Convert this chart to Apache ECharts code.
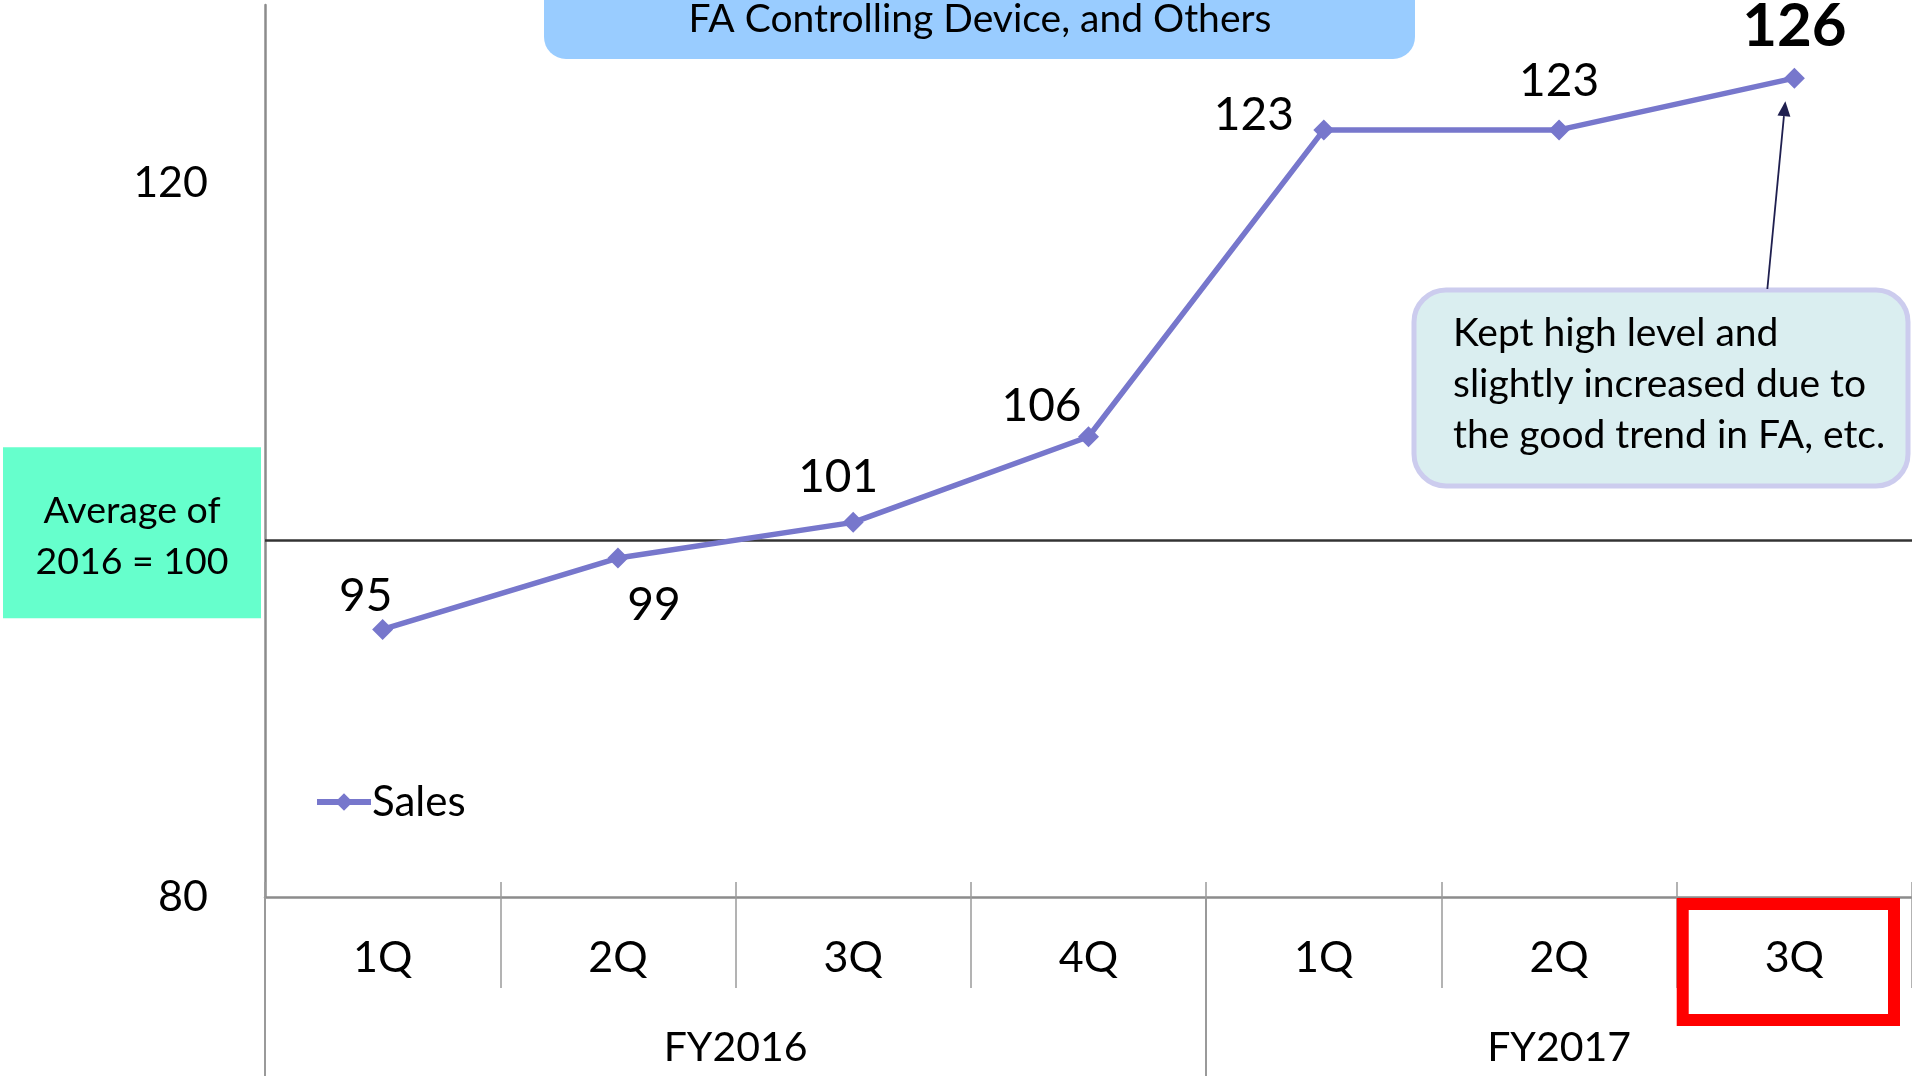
<!DOCTYPE html>
<html><head><meta charset="utf-8">
<script src="https://cdn.jsdelivr.net/npm/echarts@6/dist/echarts.min.js"></script>
<style>html,body{margin:0;padding:0;background:#fff}#c{width:1912px;height:1076px}</style>
</head><body><div id="c"></div>
<script>
// ---- data ----
const quarters = ['1Q', '2Q', '3Q', '4Q', '1Q', '2Q', '3Q'];
const fiscalYears = ['FY2016', 'FY2017'];
const quartersPerYear = [4, 3];
const sales = [95, 99, 101, 105.8, 123, 123, 125.9];
const yTicks = [80, 120];
const baseValue = 100;
const seriesName = 'Sales';
const titleText = 'FA Controlling Device, and Others';
const baseText = ['Average of', '2016 = 100'];
const noteText = ['Kept high level and', 'slightly increased due to', 'the good trend in FA, etc.'];

// ---- styling ----
const FONT = 'Lato';
const labelOffsets = [[-17, -33], [36, 47], [-15, -45], [-47, -31], [-70, -15], [0, -49], [0, -51]];

const fyStarts = [], fyCenters = [];
let acc = 0;
quartersPerYear.forEach(n => { fyStarts.push(acc); fyCenters.push(acc + n / 2); acc += n; });

const chart = echarts.init(document.getElementById('c'), null, {renderer: 'canvas'});

const option = {
  backgroundColor: '#ffffff',
  animation: false,
  grid: {left: 265, right: 0, top: 5, bottom: 179, containLabel: false, outerBoundsMode: 'none'},
  legend: {
    data: [seriesName], left: 309, top: 776, itemWidth: 54, itemHeight: 22, itemGap: 4,
    lineStyle: {width: 6},
    textStyle: {fontFamily: FONT, fontSize: 42, color: '#000', padding: [0, 0, 0, -4]}
  },
  xAxis: [
    {
      type: 'category', data: quarters, boundaryGap: true, position: 'bottom',
      axisLine: {show: true, lineStyle: {color: '#8c8c8c', width: 2.5}},
      axisTick: {show: true, interval: 0, length: 91, lineStyle: {color: '#9a9a9a', width: 1.5}},
      axisLabel: {interval: 0, margin: 40, fontFamily: FONT, fontSize: 43, color: '#000'},
      splitLine: {show: false}
    },
    {
      type: 'category', data: quarters, boundaryGap: true, position: 'bottom',
      axisLine: {show: false},
      axisTick: {show: true, inside: true, interval: 0, length: 15, lineStyle: {color: '#9a9a9a', width: 1.5}},
      axisLabel: {show: false}, splitLine: {show: false}
    },
    {
      type: 'value', min: 0, max: acc, position: 'bottom',
      axisLine: {show: false},
      axisTick: {show: true, customValues: fyStarts, length: 179, lineStyle: {color: '#9a9a9a', width: 2}},
      axisLabel: {
        show: true, customValues: fyCenters, margin: 130, fontFamily: FONT, fontSize: 41, color: '#000',
        formatter: v => { const i = fyCenters.indexOf(v); return i >= 0 ? fiscalYears[i] : ''; }
      },
      splitLine: {show: false}
    }
  ],
  yAxis: {
    type: 'value', min: yTicks[0], max: 130, interval: yTicks[1] - yTicks[0],
    axisLine: {show: true, lineStyle: {color: '#8c8c8c', width: 2.5}},
    axisTick: {show: false},
    axisLabel: {showMaxLabel: false, margin: 57, fontFamily: FONT, fontSize: 43, color: '#000'},
    splitLine: {show: false}
  },
  series: [{
    name: seriesName, type: 'line', xAxisIndex: 0,
    data: sales.map((v, i) => ({
      value: v,
      label: {
        offset: labelOffsets[i],
        fontWeight: i === sales.length - 1 ? 'bold' : 'normal',
        fontSize: i === sales.length - 1 ? 60 : 46
      }
    })),
    symbol: 'diamond', symbolSize: 21,
    lineStyle: {color: '#7777CC', width: 5.5},
    itemStyle: {color: '#7777CC'},
    label: {
      show: true, position: 'inside', fontFamily: FONT, color: '#000',
      formatter: p => String(Math.round(p.value))
    },
    markLine: {
      silent: true, symbol: ['none', 'none'], label: {show: false},
      lineStyle: {color: '#333333', width: 2.5, type: 'solid'},
      data: [{yAxis: baseValue}]
    },
    z: 5
  }]
};
chart.setOption(option);

// ---- annotation graphics, anchored to the axes ----
const pLast = chart.convertToPixel({xAxisIndex: 0, yAxisIndex: 0}, [sales.length - 1, sales[sales.length - 1]]);
const pPrev = chart.convertToPixel({xAxisIndex: 0, yAxisIndex: 0}, [sales.length - 2, sales[sales.length - 2]]);
const catW = pLast[0] - pPrev[0];
const pBase = chart.convertToPixel({yAxisIndex: 0}, baseValue);
const pAxis = chart.convertToPixel({yAxisIndex: 0}, yTicks[0]);

const tipX = pLast[0] - 9, tipY = pLast[1] + 23;
const tailX = pLast[0] - 27, tailY = 289;
const ang = Math.atan2(tipY - tailY, tipX - tailX);
const ah = 15, aw = 6.5;
const bx = tipX - ah * Math.cos(ang), by = tipY - ah * Math.sin(ang);
const px = -Math.sin(ang) * aw, py = Math.cos(ang) * aw;

chart.setOption({
  graphic: [
    // title box
    {type: 'rect', shape: {x: 544, y: -30, width: 871, height: 89, r: 22}, style: {fill: '#99CCFF'}, z: 10},
    {type: 'text', style: {text: titleText, x: 980, y: 19, fill: '#000', font: '39px ' + FONT, textAlign: 'center', textVerticalAlign: 'middle'}, z: 11},
    // base box
    {type: 'rect', shape: {x: 3, y: pBase - 93, width: 258, height: 171}, style: {fill: '#66FFCC'}, z: 10},
    {type: 'text', style: {text: baseText.join('\n'), x: 132, y: pBase - 4, fill: '#000', font: '37.5px ' + FONT, lineHeight: 51, textAlign: 'center', textVerticalAlign: 'middle'}, z: 11},
    // note box
    {type: 'rect', shape: {x: 1414, y: 290, width: 494, height: 196, r: 32}, style: {fill: '#DAEEF0', stroke: '#CCCCEE', lineWidth: 5}, z: 10},
    {type: 'text', style: {text: noteText.join('\n'), x: 1453, y: 384, fill: '#000', font: '39px ' + FONT, lineHeight: 51, textAlign: 'left', textVerticalAlign: 'middle'}, z: 11},
    // arrow
    {type: 'line', shape: {x1: tailX, y1: tailY, x2: bx, y2: by}, style: {stroke: '#1F1F4F', lineWidth: 1.8}, z: 11},
    {type: 'polygon', shape: {points: [[tipX, tipY], [bx + px, by + py], [bx - px, by - py]]}, style: {fill: '#1F1F4F'}, z: 11},
    // highlight box
    {type: 'rect', shape: {x: pLast[0] - catW / 2 + 6, y: pAxis + 7, width: catW - 24, height: 116}, style: {fill: 'none', stroke: '#FF0000', lineWidth: 12}, z: 12}
  ]
});
</script>
</body></html>
